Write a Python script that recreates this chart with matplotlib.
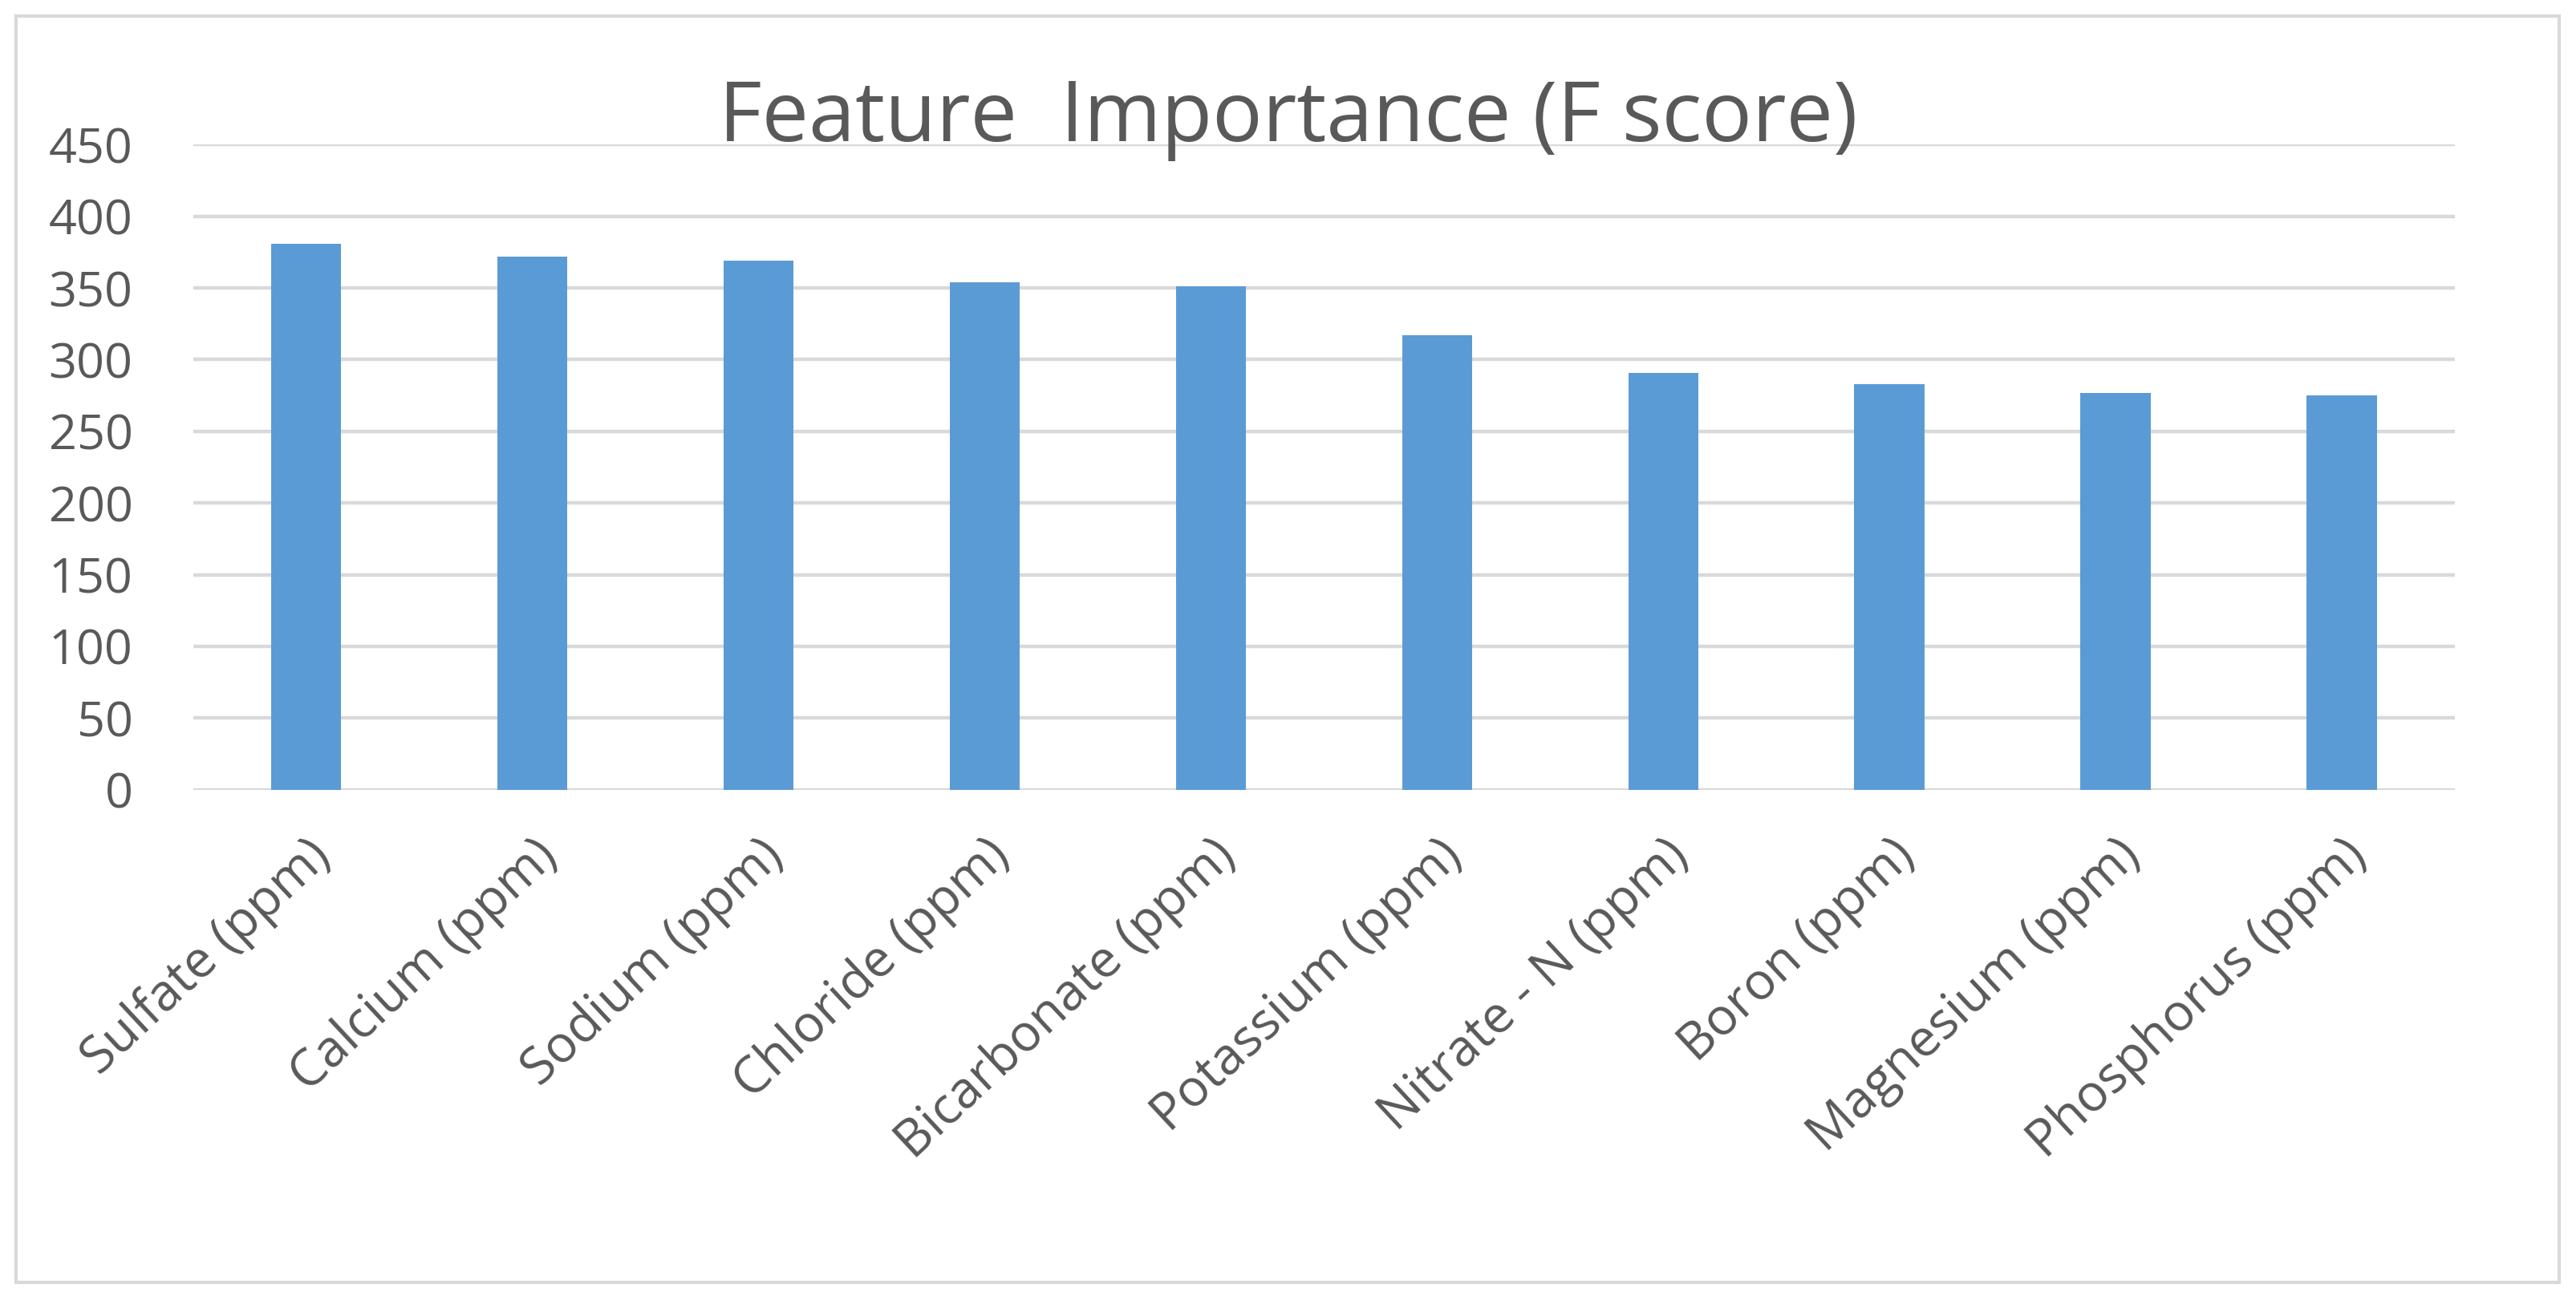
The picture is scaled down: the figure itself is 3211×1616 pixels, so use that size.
import matplotlib
matplotlib.use("Agg")
import matplotlib.pyplot as plt
import matplotlib.transforms as mtransforms
from matplotlib.patches import Rectangle
import numpy as np

features = ["Sulfate (ppm)", "Calcium (ppm)", "Sodium (ppm)", "Chloride (ppm)",
            "Bicarbonate (ppm)", "Potassium (ppm)", "Nitrate - N (ppm)",
            "Boron (ppm)", "Magnesium (ppm)", "Phosphorus (ppm)"]
f_scores = [381, 372, 369, 354, 351, 317, 291, 283, 277, 275]
y_ticks = [0, 50, 100, 150, 200, 250, 300, 350, 400, 450]

plt.rcParams['font.family'] = ['Open Sans', 'DejaVu Sans']
text_color = "#595959"
grid_color = "#d9d9d9"

fig = plt.figure(figsize=(32.11, 16.16), dpi=100)
ax = fig.add_axes([0.0749, 0.3907, 0.8781, 0.4977])

x = np.arange(len(features))
ax.bar(x, f_scores, width=0.31, color="#5b9bd5", zorder=3)

ax.set_xlim(-0.5, len(features) - 0.5)
ax.set_ylim(0, 450)
ax.set_yticks(y_ticks)
ax.set_yticklabels([str(t) for t in y_ticks], fontsize=44, color=text_color)
ax.set_xticks(x)
ax.set_xticklabels(features, fontsize=46, color=text_color, rotation=43,
                   ha="right", va="top", rotation_mode="anchor")
# nudge the rotated labels a little to the right, like the original
shift = mtransforms.ScaledTranslation(17 / 100, 0, fig.dpi_scale_trans)
for lbl in ax.get_xticklabels():
    lbl.set_transform(lbl.get_transform() + shift)
ax.tick_params(axis="y", length=0, pad=54)
ax.tick_params(axis="x", length=0, pad=36)
ax.grid(axis="y", color=grid_color, linewidth=3.2, zorder=0)
for s in ax.spines.values():
    s.set_visible(False)

fig.text(0.5, 0.908, "Feature  Importance (F score)", fontsize=75,
         color=text_color, ha="center", va="center")

# outer chart border
fig.patches.append(Rectangle((20 / 3211, 1 - 1599 / 1616), 3170 / 3211, 1579 / 1616,
                             transform=fig.transFigure, fill=False,
                             edgecolor=grid_color, linewidth=3))

fig.savefig("out.png", dpi=100, facecolor="white")
